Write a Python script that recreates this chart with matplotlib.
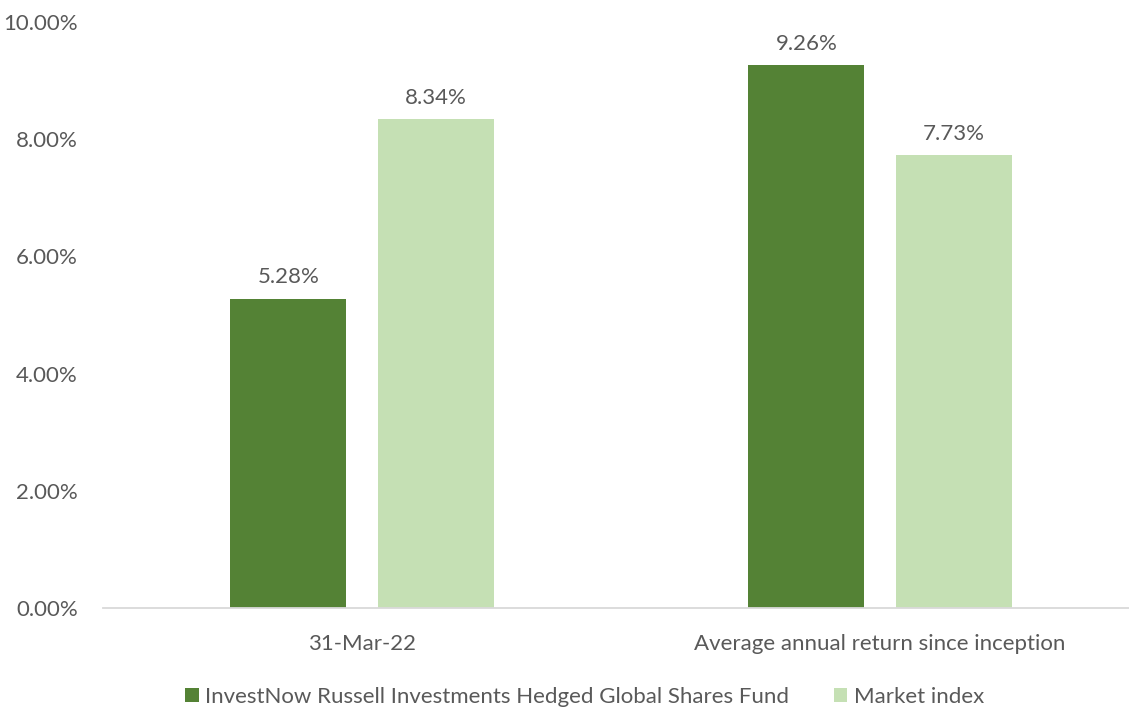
import matplotlib
matplotlib.use('Agg')
import matplotlib.pyplot as plt
import numpy as np

categories = ['31-Mar-22', 'Average annual return since inception']
fund = [5.28, 9.26]
index = [8.34, 7.73]
series_names = ['InvestNow Russell Investments Hedged Global Shares Fund', 'Market index']

plt.rcParams['font.family'] = ['Lato', 'DejaVu Sans']
text_color = '#595959'

fig = plt.figure(figsize=(11.29, 7.11), dpi=100)
ax = fig.add_axes([103 / 1129, 0.145, 1036 / 1129, 0.824])

x = np.arange(len(categories))
w = 0.224
off = 0.142
b1 = ax.bar(x - off, fund, w, color='#548235', label=series_names[0])
b2 = ax.bar(x + off, index, w, color='#C5E0B4', label=series_names[1])

for bars in (b1, b2):
    for rect in bars:
        h = rect.get_height()
        ax.annotate(f'{h:.2f}%', (rect.get_x() + rect.get_width() / 2, h),
                    xytext=(0, 8), textcoords='offset points',
                    ha='center', va='bottom', fontsize=16, color=text_color)

ax.set_xlim(-0.5, 1.5)
ax.set_ylim(0, 10)
ax.set_yticks(np.arange(0, 10.1, 2))
ax.set_yticklabels([f'{v:.2f}%' for v in np.arange(0, 10.1, 2)])
ax.set_xticks(x)
ax.set_xticklabels(categories)
ax.tick_params(axis='both', length=0, labelsize=16, labelcolor=text_color)
ax.tick_params(axis='y', pad=18)
ax.tick_params(axis='x', pad=19)
for s in ['top', 'right', 'left']:
    ax.spines[s].set_visible(False)
ax.spines['bottom'].set_color('#D9D9D9')
ax.spines['bottom'].set_linewidth(1.3)

leg = fig.legend(loc='lower center', bbox_to_anchor=(0.518, -0.022), ncol=2, frameon=False,
                 fontsize=16, handlelength=0.6, handleheight=0.6, handletextpad=0.3,
                 columnspacing=2.0)
for t in leg.get_texts():
    t.set_color(text_color)

fig.savefig('out.png', dpi=100)
